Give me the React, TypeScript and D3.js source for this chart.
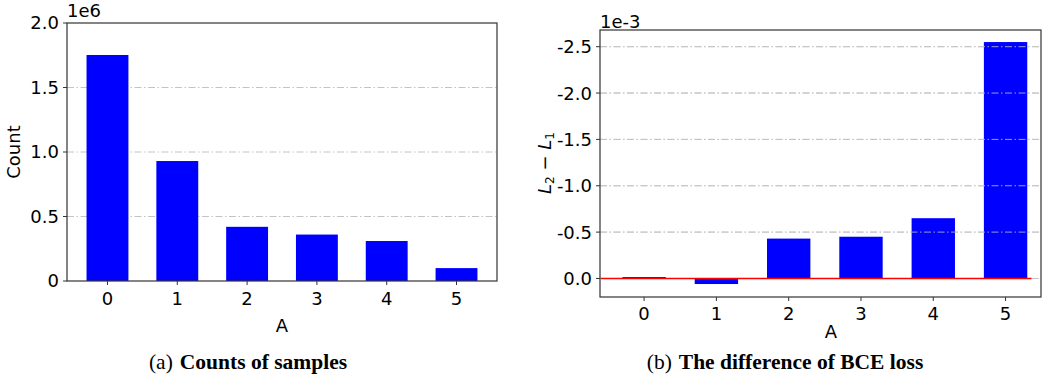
import * as d3 from "d3";

// left panel: sample counts
const categories = [0, 1, 2, 3, 4, 5];
const counts = [1.752e6, 0.93e6, 0.42e6, 0.36e6, 0.31e6, 0.1e6];
const countTicks = [0, 0.5e6, 1.0e6, 1.5e6, 2.0e6];

// right panel: L2 - L1 (axis is inverted)
const lossDiff = [-0.015e-3, 0.06e-3, -0.43e-3, -0.45e-3, -0.65e-3, -2.55e-3];
const diffTicks = [0, -0.5e-3, -1.0e-3, -1.5e-3, -2.0e-3, -2.5e-3];

const W = 1047;
const H = 379;
const tickFont = "DejaVu Sans, sans-serif";
const capFont = "Liberation Serif, serif";
const FS = 18;
const CAP = 21.5;
const BAR = "#0000ff";
const GRID = "#c4c4c4";

function LeftPanel() {
  const x = d3.scaleLinear().domain([-0.58, 5.58]).range([67, 497]);
  const y = d3.scaleLinear().domain([0, 2.0e6]).range([281, 23]);
  const bw = x(0.6) - x(0);
  const [x0, x1] = x.range();
  const [y0, y1] = y.range();
  return (
    <g>
      {countTicks.filter((t) => t > 0 && t < 2.0e6).map((t) => (
        <line key={t} x1={x0} x2={x1} y1={y(t)} y2={y(t)} stroke={GRID} strokeDasharray="7 2.5 1.5 2.5" />
      ))}
      {categories.map((c, i) => (
        <rect key={c} x={x(c) - bw / 2} y={y(counts[i])} width={bw} height={y(0) - y(counts[i])} fill={BAR} />
      ))}
      <rect x={x0} y={y1} width={x1 - x0} height={y0 - y1} fill="none" stroke="#333" strokeWidth={1.2} />
      {countTicks.map((t) => (
        <g key={t}>
          <line x1={x0 - 4} x2={x0} y1={y(t)} y2={y(t)} stroke="#333" />
          <text x={x0 - 8} y={y(t)} dy="0.36em" textAnchor="end" fontFamily={tickFont} fontSize={FS}>
            {t === 0 ? "0" : d3.format(".1f")(t / 1e6)}
          </text>
        </g>
      ))}
      {categories.map((c) => (
        <g key={c}>
          <line x1={x(c)} x2={x(c)} y1={y0} y2={y0 + 4} stroke="#333" />
          <text x={x(c)} y={y0 + 24} textAnchor="middle" fontFamily={tickFont} fontSize={FS}>{c}</text>
        </g>
      ))}
      <text x={x0} y={y1 - 6} fontFamily={tickFont} fontSize={FS}>1e6</text>
      <text transform={`translate(20,${(y0 + y1) / 2}) rotate(-90)`} textAnchor="middle" fontFamily={tickFont} fontSize={FS}>Count</text>
      <text x={(x0 + x1) / 2} y={332} textAnchor="middle" fontFamily={tickFont} fontSize={FS}>A</text>
      <text x={248} y={369} textAnchor="middle" fontFamily={capFont} fontSize={CAP}>
        (a)<tspan dx={7} fontWeight="bold">Counts of samples</tspan>
      </text>
    </g>
  );
}

function RightPanel() {
  const x = d3.scaleLinear().domain([-0.61, 5.49]).range([600, 1041]);
  // inverted: more negative values go up
  const y = d3.scaleLinear().domain([0.2e-3, -2.68e-3]).range([297, 30]);
  const bw = x(0.6) - x(0);
  const [x0, x1] = x.range();
  const [y0, y1] = y.range();
  return (
    <g>
      {diffTicks.map((t) => (
        <line key={t} x1={x0} x2={x1} y1={y(t)} y2={y(t)} stroke={GRID} strokeDasharray="7 2.5 1.5 2.5" />
      ))}
      {categories.map((c, i) => {
        const v = lossDiff[i];
        const top = Math.min(y(v), y(0));
        return <rect key={c} x={x(c) - bw / 2} y={top} width={bw} height={Math.abs(y(v) - y(0))} fill={BAR} />;
      })}
      {diffTicks.slice(1).map((t) => (
        <line key={t} x1={x0} x2={x1} y1={y(t)} y2={y(t)} stroke={GRID} strokeDasharray="7 2.5 1.5 2.5" opacity={0.8} />
      ))}
      <line x1={x(-0.6)} x2={x(5.36)} y1={y(0)} y2={y(0)} stroke="#ff0000" strokeWidth={1.5} />
      <rect x={x0} y={y1} width={x1 - x0} height={y0 - y1} fill="none" stroke="#333" strokeWidth={1.2} />
      {diffTicks.map((t) => (
        <g key={t}>
          <line x1={x0 - 4} x2={x0} y1={y(t)} y2={y(t)} stroke="#333" />
          <text x={x0 - 8} y={y(t)} dy="0.36em" textAnchor="end" fontFamily={tickFont} fontSize={FS}>
            {d3.format(".1f")(t * 1e3).replace("−", "-")}
          </text>
        </g>
      ))}
      {categories.map((c) => (
        <g key={c}>
          <line x1={x(c)} x2={x(c)} y1={y0} y2={y0 + 4} stroke="#333" />
          <text x={x(c)} y={y0 + 23} textAnchor="middle" fontFamily={tickFont} fontSize={FS}>{c}</text>
        </g>
      ))}
      <text x={x0} y={y1 - 2} fontFamily={tickFont} fontSize={FS}>1e-3</text>
      <text transform={`translate(551,163) rotate(-90)`} textAnchor="middle" fontFamily={tickFont} fontSize={FS}>
        <tspan fontStyle="italic">L</tspan>
        <tspan fontSize={12} baselineShift="-25%">2</tspan>
        <tspan>{" − "}</tspan>
        <tspan fontStyle="italic">L</tspan>
        <tspan fontSize={12} baselineShift="-25%">1</tspan>
      </text>
      <text x={831} y={338} textAnchor="middle" fontFamily={tickFont} fontSize={FS}>A</text>
      <text x={785} y={369} textAnchor="middle" fontFamily={capFont} fontSize={CAP}>
        (b)<tspan dx={7} fontWeight="bold">The difference of BCE loss</tspan>
      </text>
    </g>
  );
}

export default function App() {
  return (
    <svg width={W} height={H} style={{ position: "absolute", left: 0, top: 0, background: "#fff" }}>
      <LeftPanel />
      <RightPanel />
    </svg>
  );
}
